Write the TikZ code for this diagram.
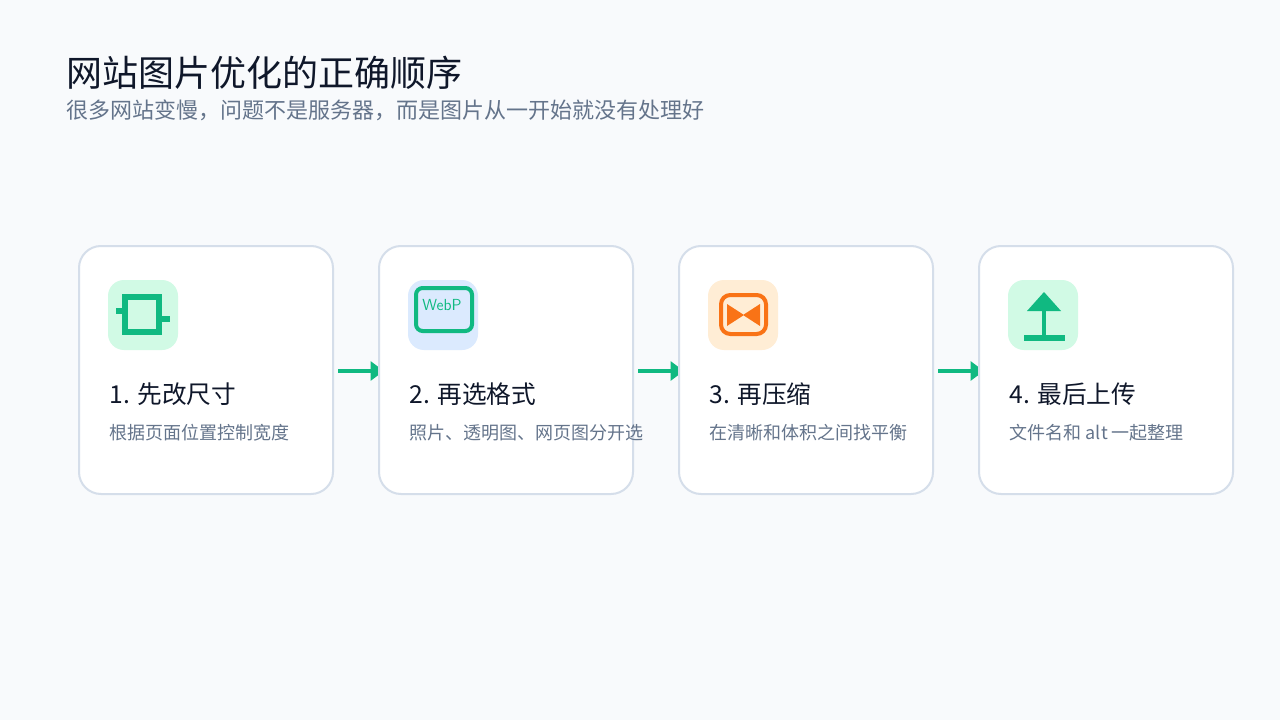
\documentclass[tikz,border=0pt]{standalone}
\usepackage{fontspec}
\setmainfont{Noto Sans CJK SC}
\begin{document}
\begin{tikzpicture}[x=0.75pt,y=-0.75pt,
 card/.style={draw=cardline,line width=1.5pt,fill=white,rounded corners=16.5pt},
 ibox/.style={rounded corners=12pt},
 stitle/.style={anchor=west,text=titlec,font=\fontsize{18.5}{20}\selectfont},
 sdesc/.style={anchor=west,text=descc,font=\fontsize{13.5}{15}\selectfont},
 flow/.style={draw=grn,line width=3pt,-{Triangle[length=10pt,width=14pt]}}]
\usetikzlibrary{arrows.meta}
\definecolor{bg}{HTML}{F8FAFC}\definecolor{cardline}{HTML}{D5DEEA}
\definecolor{grn}{HTML}{10B981}\definecolor{lgrn}{HTML}{D1FAE5}
\definecolor{lblue}{HTML}{DBEAFE}\definecolor{lor}{HTML}{FFEDD5}\definecolor{org}{HTML}{F97316}
\definecolor{titlec}{HTML}{0F172A}\definecolor{descc}{HTML}{64748B}
\fill[bg] (0,0) rectangle (1280,720);
\node[anchor=west,text=titlec,font=\fontsize{27}{30}\selectfont] (t) at (62,73) {网站图片优化的正确顺序};
\node[anchor=west,text=descc,font=\fontsize{16.5}{19}\selectfont] (st) at (62,110) {很多网站变慢，问题不是服务器，而是图片从一开始就没有处理好};
\coordinate (a1) at (338,371);\coordinate (a2) at (638,371);\coordinate (a3) at (938,371);
\coordinate (b1) at (384,371);\coordinate (b2) at (684,371);\coordinate (b3) at (984,371);
\draw[flow] (a1) -- (b1); \draw[flow] (a2) -- (b2); \draw[flow] (a3) -- (b3);
\foreach \i/\x/\c/\t/\d in {1/79/lgrn/1. 先改尺寸/根据页面位置控制宽度,2/379/lblue/2. 再选格式/照片、透明图、网页图分开选,3/679/lor/3. 再压缩/在清晰和体积之间找平衡,4/979/lgrn/4. 最后上传/文件名和 alt 一起整理}{
 \path[card] (\x,246) rectangle ++(254,248);
 \fill[\c,ibox] (\x+29,280) rectangle ++(70,70);
 \node[stitle] (h\i) at (\x+26,394) {\t};
 \node[sdesc] (d\i) at (\x+26,433) {\d};
}
% icon 1
\draw[grn,line width=4pt] (125,297) rectangle (159,332);
\draw[grn,line width=4pt] (116,311) -- (125,311) (159,319) -- (170,319);
% icon 2
\draw[grn,line width=3pt,rounded corners=5pt] (416,288) rectangle (472,331);
\node[text=grn,font=\fontsize{12}{13}\selectfont\sffamily] (wp) at (442,305) {WebP};
% icon 3
\draw[org,line width=3pt,rounded corners=7pt] (721,295) rectangle (766,334);
\fill[org] (727,304) -- (744,315) -- (727,326) -- cycle (760,304) -- (743,315) -- (760,326) -- cycle;
% icon 4
\fill[grn] (1044,292) -- (1061,311) -- (1027,311) -- cycle;
\draw[grn,line width=3pt] (1044,310) -- (1044,336);
\draw[grn,line width=4.5pt] (1024,338) -- (1065,338);
\end{tikzpicture}
\end{document}
